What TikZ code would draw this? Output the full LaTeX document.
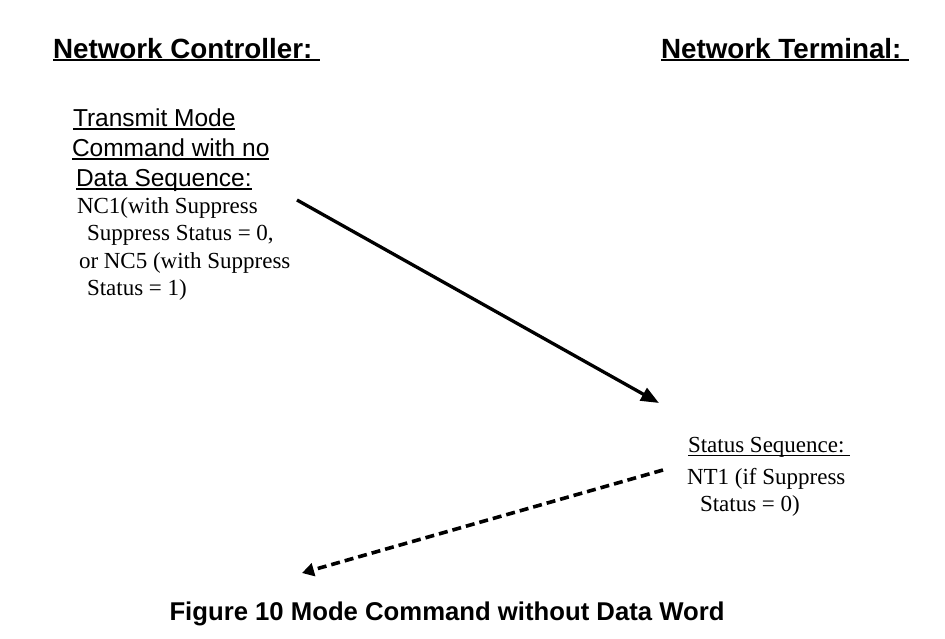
\documentclass[tikz,border=0pt]{standalone}
\usepackage{fontspec}
\setmainfont{Liberation Serif}
\setsansfont{Liberation Sans}
\usetikzlibrary{arrows.meta}

% underline that ignores descenders
\newcommand{\ulin}[2][1.6pt]{\setbox0\hbox{#2}\rlap{\rule[-3.2pt]{\wd0}{#1}}\box0}

\begin{document}
\begin{tikzpicture}[x=1pt, y=-1pt,
        every node/.style={inner sep=0pt, outer sep=0pt},
        head/.style={font=\sffamily\bfseries\fontsize{27.8}{30}\selectfont, anchor=base west},
        cmdtext/.style={font=\sffamily\fontsize{24.5}{30}\selectfont, align=left, anchor=north west},
        seqtext/.style={font=\fontsize{23}{27.5}\selectfont, align=left, anchor=north west},
        caption/.style={font=\sffamily\bfseries\fontsize{25.7}{30}\selectfont, anchor=base},
        cmdarrow/.style={-{Triangle[length=18pt, width=14pt]}, line width=3.3pt},
        statarrow/.style={-{Triangle[length=12pt, width=13pt]}, line width=3.6pt, dash pattern=on 9pt off 5pt}
    ]
        \useasboundingbox (0,0) rectangle (945,638);

        \node[head] (ctrl) at (53,58)  {\ulin[2.2pt]{Network Controller:\ }};
        \node[head] (term) at (661,58) {\ulin[2.2pt]{Network Terminal:\ }};

        \node[cmdtext] (cmd) at (72,109) {\hspace*{1pt}\ulin{Transmit Mode}\\ \ulin{Command with no}\\ \hspace*{4pt}\ulin{Data Sequence:}};
        \node[seqtext] (nc) at (77,197.5) {NC1(with Suppress\\ \hspace*{10pt}Suppress Status = 0,\\ \hspace*{2pt}or NC5 (with Suppress\\ \hspace*{10pt}Status = 1)};

        \node[seqtext] (stat) at (687,437.5) {\hspace*{1pt}\ulin[1.4pt]{Status Sequence:\ }\\[4pt] NT1 (if Suppress\\ \hspace*{13pt}Status = 0)};

        \node[caption] (cap) at (447,620) {Figure 10 Mode Command without Data Word};

        \coordinate (ncout)   at (297,200);
        \coordinate (ntin)    at (659,403);
        \coordinate (ntout)   at (663,470);
        \coordinate (ncin)    at (302,573);

        \draw[cmdarrow]  (ncout) -- (ntin);
        \draw[statarrow] (ntout) -- (ncin);
    \end{tikzpicture}
\end{document}
